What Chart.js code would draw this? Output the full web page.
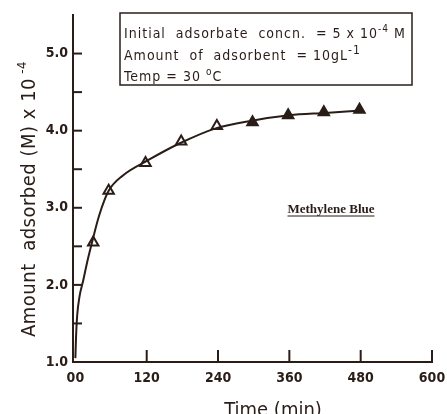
<!DOCTYPE html>
<html>
<head>
<meta charset="utf-8">
<script src="https://cdn.jsdelivr.net/npm/chart.js@4/dist/chart.umd.min.js"></script>
<style>
  html, body { margin: 0; padding: 0; background: #fff; }
  #wrap { width: 447px; height: 414px; }
</style>
</head>
<body>
<div id="wrap"><canvas id="kinetics" width="447" height="414"></canvas></div>
<script>
// measured points (triangles)
const timeMin = [30, 56, 118, 178, 238, 298, 358, 418, 478];
const amountAdsorbed = [2.55, 3.22, 3.58, 3.86, 4.06, 4.11, 4.20, 4.24, 4.27];
const pointFilled = [false, false, false, false, false, true, true, true, true];

// fitted curve
const curveTime = [0, 1, 3, 7, 13, 20, 27, 40, 56, 80, 123, 174, 236, 297, 360, 420, 480];
const curveAmount = [1.05, 1.3, 1.6, 1.85, 2.05, 2.3, 2.52, 2.9, 3.22, 3.42, 3.62, 3.83, 4.03, 4.13, 4.2, 4.23, 4.26];

const xTicks = [0, 120, 240, 360, 480, 600];
const xTickLabels = ['00', '120', '240', '360', '480', '600'];
const yTicks = [1, 1.5, 2, 2.5, 3, 3.5, 4, 4.5, 5, 5.5];

const ink = '#2a1d18';
const fam = '"DejaVu Sans Condensed", "DejaVu Sans", sans-serif';

// draws text pieces, each {t, sup}
function drawRich(ctx, parts, x, y, font, supFont, lift) {
  let cx = x;
  for (const p of parts) {
    ctx.font = p.sup ? supFont : font;
    ctx.fillText(p.t, cx, p.sup ? y - lift : y);
    cx += ctx.measureText(p.t).width;
  }
  return cx;
}

const decorations = {
  id: 'decorations',
  afterDraw(chart) {
    const { ctx, chartArea, scales } = chart;
    const xs = scales.x;
    const ys = scales.y;
    ctx.save();
    ctx.strokeStyle = ink;
    ctx.fillStyle = ink;
    ctx.lineWidth = 2;

    // inward ticks on the time axis
    xTicks.forEach((v) => {
      if (v === 0) return;
      const px = xs.getPixelForValue(v);
      ctx.beginPath();
      ctx.moveTo(px, chartArea.bottom);
      ctx.lineTo(px, chartArea.bottom - 12);
      ctx.stroke();
    });
    // inward ticks on the amount axis
    yTicks.forEach((v) => {
      if (v === 1 || v === 5.5) return;
      const py = ys.getPixelForValue(v);
      ctx.beginPath();
      ctx.moveTo(chartArea.left, py);
      ctx.lineTo(chartArea.left + 9, py);
      ctx.stroke();
    });

    // condition box
    ctx.lineWidth = 1.5;
    ctx.strokeRect(120, 13, 292, 72);
    ctx.textBaseline = 'alphabetic';
    ctx.textAlign = 'left';
    ctx.letterSpacing = '1px';
    const boxFont = '14px ' + fam;
    const supFont = '10px ' + fam;
    drawRich(ctx, [{ t: 'Initial  adsorbate  concn.  = 5 x 10' }, { t: '-4', sup: true }, { t: ' M' }], 124, 38, boxFont, supFont, 6);
    drawRich(ctx, [{ t: 'Amount  of  adsorbent  = 10gL' }, { t: '-1', sup: true }], 124, 60, boxFont, '12px ' + fam, 6);
    drawRich(ctx, [{ t: 'Temp = 30 ' }, { t: 'o', sup: true }, { t: 'C' }], 124, 81, boxFont, supFont, 6);
    ctx.letterSpacing = '0px';

    // series label
    ctx.font = 'bold 13px "Liberation Serif", "Times New Roman", serif';
    ctx.textAlign = 'center';
    const lbl = 'Methylene Blue';
    const lw = ctx.measureText(lbl).width;
    ctx.fillText(lbl, 331, 213);
    ctx.lineWidth = 1;
    ctx.beginPath();
    ctx.moveTo(331 - lw / 2, 216);
    ctx.lineTo(331 + lw / 2, 216);
    ctx.stroke();

    // y axis title, rotated
    ctx.save();
    ctx.translate(35, 337);
    ctx.rotate(-Math.PI / 2);
    ctx.textAlign = 'left';
    ctx.letterSpacing = '0.5px';
    drawRich(ctx, [{ t: 'Amount  adsorbed (M) x 10' }, { t: ' -4', sup: true }], 0, 0,
      '20px ' + fam, '13px ' + fam, 9);
    ctx.restore();

    // x axis title (cut at the bottom edge)
    ctx.font = '20px ' + fam;
    ctx.textAlign = 'center';
    ctx.fillText('Time (min)', 273, 416);
    ctx.restore();
  },
};

new Chart(document.getElementById('kinetics'), {
  type: 'scatter',
  data: {
    datasets: [
      {
        label: 'fit',
        data: curveTime.map((t, i) => ({ x: t, y: curveAmount[i] })),
        showLine: true,
        borderColor: ink,
        borderWidth: 2,
        pointRadius: 0,
        cubicInterpolationMode: 'monotone',
      },
      {
        label: 'Methylene Blue',
        data: timeMin.map((t, i) => ({ x: t, y: amountAdsorbed[i] })),
        pointStyle: 'triangle',
        pointRadius: 6,
        borderWidth: 2,
        borderColor: ink,
        backgroundColor: pointFilled.map((f) => (f ? ink : '#ffffff')),
      },
    ],
  },
  options: {
    responsive: false,
    animation: false,
    layout: { padding: { top: 15, right: 15, left: 0, bottom: 0 } },
    plugins: { legend: { display: false }, tooltip: { enabled: false } },
    scales: {
      x: {
        type: 'linear',
        min: -4,
        max: 600,
        afterBuildTicks: (s) => { s.ticks = xTicks.map((v) => ({ value: v })); },
        afterFit: (s) => { s.height = 52; },
        grid: { display: false },
        border: { color: ink, width: 2 },
        ticks: {
          color: ink,
          font: { family: fam, size: 14, weight: 'bold' },
          padding: 0,
          maxRotation: 0,
          callback: (v) => xTickLabels[xTicks.indexOf(v)],
        },
      },
      y: {
        type: 'linear',
        min: 1,
        max: 5.5,
        afterBuildTicks: (s) => { s.ticks = yTicks.map((v) => ({ value: v })); },
        afterFit: (s) => { s.width = 73; },
        grid: { drawOnChartArea: false, drawTicks: false },
        border: { color: ink, width: 2 },
        ticks: {
          color: ink,
          font: { family: fam, size: 14, weight: 'bold' },
          padding: 5,
          callback: (v) => (Number.isInteger(v) && v <= 5 ? v.toFixed(1) : ''),
        },
      },
    },
  },
  plugins: [decorations],
});
</script>
</body>
</html>
